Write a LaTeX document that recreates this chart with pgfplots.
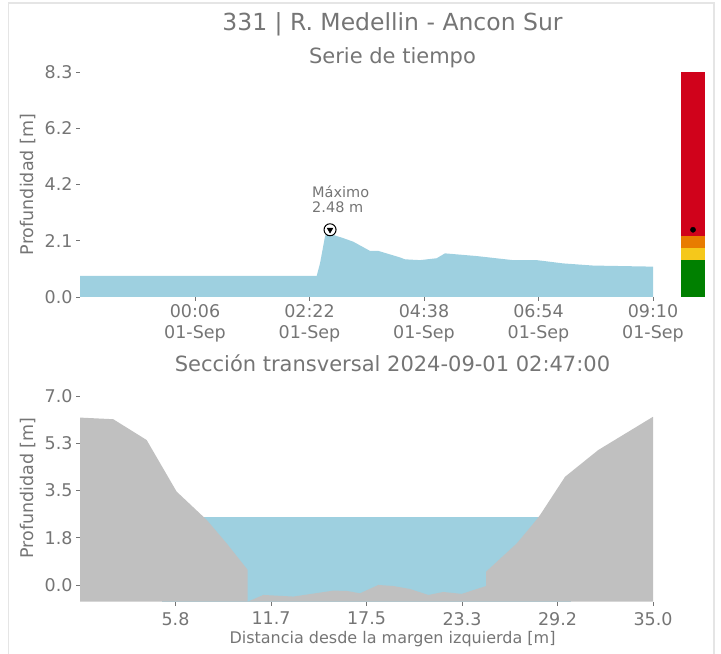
\documentclass[border=0pt]{standalone}
\usepackage{fontspec}
\setmainfont{DejaVu Sans}
\usepackage{pgfplots}
\pgfplotsset{compat=1.18}

\definecolor{txt}{RGB}{117,117,117}
\definecolor{water}{RGB}{158,208,224}
\definecolor{terrain}{RGB}{192,192,192}
\definecolor{lvred}{RGB}{208,2,27}
\definecolor{lvorange}{RGB}{232,124,0}
\definecolor{lvyellow}{RGB}{245,200,27}
\definecolor{lvgreen}{RGB}{0,128,0}

\pgfplotsset{
  base/.style={
    scale only axis, anchor=south west,
    axis lines*=left, axis line style={draw=none},
    tick align=outside, major tick length=4bp,
    tick style={txt, line width=0.8bp},
    ticklabel style={font=\fontsize{17.5bp}{20.5bp}\selectfont, text=txt},
    xticklabel style={align=center},
  }
}

\begin{document}
\begin{tikzpicture}
\path[use as bounding box] (0,0) rectangle (721bp,654bp);
\draw[gray!20, line width=1.5bp] (8.5bp,0) -- (8.5bp,651bp) -- (714bp,651bp) -- (714bp,0);

% titles
\node[anchor=base, inner sep=0, text=txt, font=\fontsize{23.5bp}{28bp}\selectfont] at (392.5bp,623bp) {331 | R. Medellin - Ancon Sur};
\node[anchor=base, inner sep=0, text=txt, font=\fontsize{21bp}{25bp}\selectfont] at (392.5bp,590.5bp) {Serie de tiempo};
\node[anchor=base, inner sep=0, text=txt, font=\fontsize{21bp}{25bp}\selectfont] at (392.5bp,282.3bp) {Sección transversal 2024-09-01 02:47:00};
\node[anchor=base, inner sep=0, text=txt, font=\fontsize{16bp}{19bp}\selectfont] at (392.5bp,11bp) {Distancia desde la margen izquierda [m]};
\node[rotate=90, anchor=base, inner sep=0, text=txt, font=\fontsize{17.5bp}{19bp}\selectfont] at (33bp,469.5bp) {Profundidad [m]};
\node[rotate=90, anchor=base, inner sep=0, text=txt, font=\fontsize{17.5bp}{19bp}\selectfont] at (33bp,166bp) {Profundidad [m]};

% time series (x in minutes from 01-Sep 00:00)
\begin{axis}[base, at={(80bp,357bp)}, width=573bp, height=225bp,
  xmin=-130.6, xmax=550, ymin=0, ymax=8.3, clip=false,
  xtick={6,142,278,414,550},
  xticklabels={{00:06\\01-Sep},{02:22\\01-Sep},{04:38\\01-Sep},{06:54\\01-Sep},{09:10\\01-Sep}},
  ytick={0,2.075,4.15,6.225,8.3},
  yticklabels={0.0,2.1,4.2,6.2,8.3}]
\addplot[fill=water, draw=none] coordinates {
  (-130.6,0.78) (150.6,0.78) (152,0.95) (154.5,1.24) (160.4,2.23) (163,2.40)
  (166.4,2.48) (170.3,2.29) (182.2,2.17) (194,2.04) (213.9,1.70) (223.7,1.70)
  (249.5,1.46) (255.4,1.39) (273.2,1.36) (293.1,1.43) (302.9,1.61) (340.6,1.51)
  (383.7,1.36) (411.9,1.36) (443.1,1.24) (478.7,1.16) (550,1.12)} \closedcycle;
\addplot[only marks, mark=*, mark size=6bp, mark options={fill=white, draw=black, line width=1bp}] coordinates {(166.4,2.48)};
\addplot[only marks, mark=triangle*, mark size=3.3bp, mark options={rotate=180, fill=black, draw=black}] coordinates {(166.4,2.48)};
\node[anchor=base west, inner sep=0, text=txt, font=\fontsize{14.5bp}{15bp}\selectfont] at (axis cs:145,3.68) {Máximo};
\node[anchor=base west, inner sep=0, text=txt, font=\fontsize{14.5bp}{15bp}\selectfont] at (axis cs:145,3.125) {2.48 m};
\end{axis}

% alert level bar
\begin{axis}[scale only axis, anchor=south west, hide axis, at={(681bp,357bp)}, width=24bp, height=225bp,
  xmin=0, xmax=1, ymin=0, ymax=8.3, clip=false]
\addplot[fill=lvgreen, draw=none] coordinates {(0,0) (1,0) (1,1.37) (0,1.37)} -- cycle;
\addplot[fill=lvyellow, draw=none] coordinates {(0,1.37) (1,1.37) (1,1.81) (0,1.81)} -- cycle;
\addplot[fill=lvorange, draw=none] coordinates {(0,1.81) (1,1.81) (1,2.25) (0,2.25)} -- cycle;
\addplot[fill=lvred, draw=none] coordinates {(0,2.25) (1,2.25) (1,8.3) (0,8.3)} -- cycle;
\addplot[only marks, mark=*, mark size=2.6bp, black] coordinates {(0.5,2.48)};
\end{axis}

% cross section
\begin{axis}[base, at={(80bp,52.3bp)}, width=573bp, height=205.7bp,
  xmin=0, xmax=35, ymin=-0.62, ymax=7,
  xticklabel style={yshift=-3bp},
  xtick={5.833,11.667,17.5,23.333,29.167,35},
  xticklabels={5.8,11.7,17.5,23.3,29.2,35.0},
  ytick={0,1.75,3.5,5.25,7},
  yticklabels={0.0,1.8,3.5,5.3,7.0}]
\addplot[fill=water, draw=none] coordinates {(5,2.5) (30,2.5) (30,-0.62) (5,-0.62)} -- cycle;
\addplot[fill=terrain, draw=none] coordinates {
  (0,6.2) (2.03,6.14) (4.07,5.37) (5.9,3.46) (7.74,2.41) (8.96,1.54) (10.24,0.56)
  (10.24,-0.62) (11.2,-0.37) (13.03,-0.43) (15.47,-0.21) (16.3,-0.22) (17.1,-0.31)
  (18.22,0.0) (19.14,-0.04) (20.16,-0.15) (21.28,-0.37) (22.19,-0.26) (23.32,-0.33)
  (24.8,-0.04) (24.8,0.49) (26.68,1.54) (27.7,2.28) (28.1,2.59) (29.63,4.01)
  (31.66,5.0) (35,6.23) (35,-0.62) (0,-0.62)} -- cycle;
\end{axis}
\end{tikzpicture}
\end{document}
